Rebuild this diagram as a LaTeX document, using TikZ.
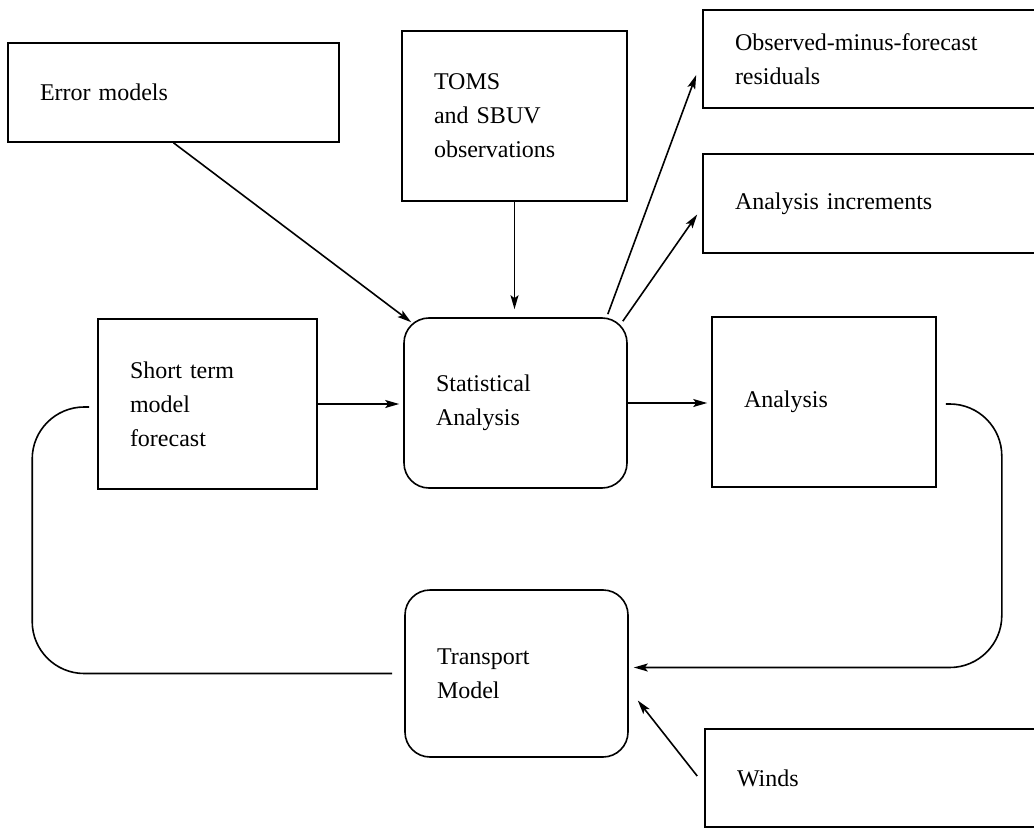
\documentclass[tikz,border=0pt]{standalone}
\usepackage{fontspec}
\setmainfont{Liberation Serif}
\usetikzlibrary{calc,arrows.meta}

\begin{document}
\begin{tikzpicture}[x=0.5pt,y=-0.5pt,line width=0.8pt,
  >={Stealth[length=7pt,width=4pt,inset=1.5pt]},
  blk/.style={draw,align=left,inner xsep=16pt,inner ysep=0pt,
    font=\fontsize{12}{17}\selectfont},
  rnd/.style={blk,rounded corners=12.5pt}]
  \useasboundingbox (0,0) rectangle (1034,829);
  \clip (0,0) rectangle (1034,829);

  % inputs along the top
  \node[blk,minimum height=49.5pt,text width=133.5pt] (err) at (173.5,92.5) {Error models};
  \node[blk,minimum height=85pt,text width=80.5pt] (toms) at (514.5,116) {TOMS\\and SBUV\\observations};
  \node[blk,minimum height=49pt,text width=139pt] (omf) at (874,59) {Observed-minus-forecast\\residuals};
  \node[blk,minimum height=49.5pt,text width=139pt] (inc) at (874,203.5) {Analysis increments};

  % the cycle
  \node[blk,minimum height=85pt,text width=77.5pt] (stf) at (207.5,404) {Short term\\model\\forecast};
  \node[rnd,minimum height=85pt,text width=79.5pt] (stat) at (515.5,403) {Statistical\\Analysis};
  \node[blk,minimum height=85pt,text width=80pt] (ana) at (824,402) {Analysis};
  \node[rnd,minimum height=83.5pt,text width=79.5pt] (trm) at (516.5,673.5) {Transport\\Model};
  \node[blk,minimum height=49pt,text width=138pt] (wnd) at (875,778) {Winds};

  \draw[->] (err.south) -- ($(stat.north west)+(8,5)$);
  \draw[->] (toms.south) -- ($(toms.south |- stat.north)+(0,-8)$);
  \draw[->] ($(stat.north east)+(-20,-3)$) -- ($(omf.west)+(-6,16)$);
  \draw[->] ($(stat.north east)+(-5,4)$) -- ($(inc.west)+(-5,11)$);
  \draw[->,shorten >=2pt] (stf.east) -- (stf.east -| stat.west);
  \draw[->,shorten >=2pt] (stat.east) -- (stat.east -| ana.west);

  % loop back through the transport model
  \draw[->,rounded corners=26pt] ($(ana.east)+(9,2)$) -- ++(56,0) |- ($(trm.east)+(5,-6)$);
  \draw[rounded corners=26pt] ($(trm.west)+(-12,0)$) -| ($(stf.west)+(-65,3)$) -- ($(stf.west)+(-8,3)$);
  \draw[->] ($(wnd.west)+(-7,-2)$) -- ($(trm.east)+(9,27)$);
\end{tikzpicture}
\end{document}
